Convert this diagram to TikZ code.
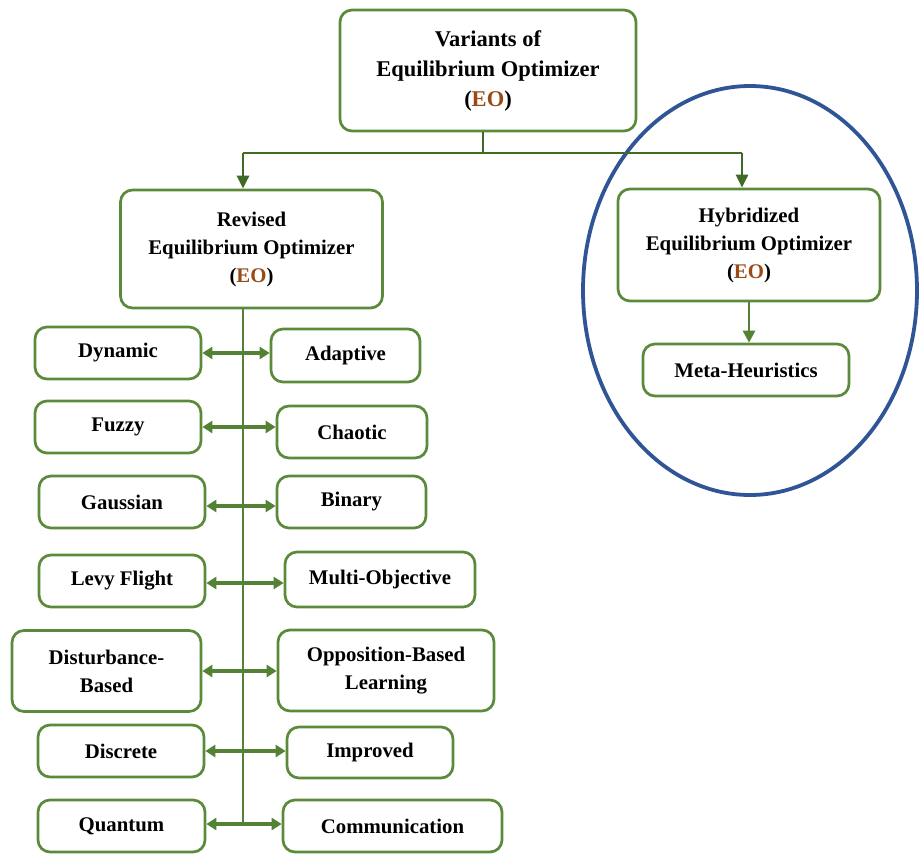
\documentclass[tikz,border=0pt]{standalone}
\usepackage{fontspec}
\setmainfont{Liberation Serif}
\usetikzlibrary{arrows.meta}
\definecolor{boxgreen}{HTML}{5A8A3A}
\definecolor{linkgreen}{HTML}{3F6B26}
\definecolor{arrgreen}{HTML}{548235}
\definecolor{eobrown}{HTML}{9A4A14}
\definecolor{ringblue}{HTML}{2F5597}
\newcommand{\EO}{(\textcolor{eobrown}{EO})}
\tikzset{
  x=1pt, y=-1pt,
  box/.style={draw=boxgreen, line width=2.7pt, rounded corners=12pt, fill=white,
    align=center, inner sep=0pt,
    font=\fontsize{20.8}{28}\selectfont\bfseries},
  link/.style={draw=linkgreen, line width=2.8pt},
  linkarrow/.style={link, -{Triangle[length=13pt,width=12pt]}},
  pairarrow/.style={draw=arrgreen, line width=3.6pt,
    {Triangle[length=10pt,width=12pt]}-{Triangle[length=10pt,width=12pt]}},
  downarrow/.style={draw=arrgreen, line width=2.8pt, -{Triangle[length=12pt,width=12pt]}},
}
\begin{document}
\begin{tikzpicture}
\useasboundingbox (0,0) rectangle (922,855);

% grouping ellipse for the hybrid branch
\draw[ringblue, line width=3.8pt] (750,290.5) ellipse [x radius=167pt, y radius=204.5pt];

% main boxes
\node[box, minimum width=296pt, minimum height=121pt,
      font=\fontsize{22.5}{30}\selectfont\bfseries] (root) at (488,70.5)
  {Variants of\\Equilibrium Optimizer\\\EO};
\node[box, minimum width=262pt, minimum height=118pt] (rev) at (251.5,249)
  {Revised\\Equilibrium Optimizer\\\EO};
\node[box, minimum width=262pt, minimum height=112pt] (hyb) at (749,245)
  {Hybridized\\Equilibrium Optimizer\\\EO};
\node[box, minimum width=206pt, minimum height=52pt] (meta) at (746,370)
  {Meta-Heuristics};

% connectors from the root
\coordinate (split) at (483,153);
\draw[link] (root.south -| split) -- (split);
\draw[linkarrow] (243,153) -- (243,153 |- rev.north);
\draw[link] (243,153) -- (742,153);
\draw[linkarrow] (742,153) -- (742,153 |- hyb.north);
\draw[downarrow] (hyb.south) -- (meta.north -| hyb.south);

% revised variants, left column
\node[box, minimum width=166pt, minimum height=52pt] (dyn)  at (118,353) {Dynamic};
\node[box, minimum width=166pt, minimum height=52pt] (fuz)  at (118,427) {Fuzzy};
\node[box, minimum width=166pt, minimum height=52pt] (gau)  at (122,502) {Gaussian};
\node[box, minimum width=166pt, minimum height=52pt] (levy) at (122,581) {Levy Flight};
\node[box, minimum width=189pt, minimum height=81pt] (dist) at (106.5,671) {Disturbance-\\Based};
\node[box, minimum width=166pt, minimum height=52pt] (disc) at (121,751) {Discrete};
\node[box, minimum width=167pt, minimum height=52pt] (quan) at (121.5,826) {Quantum};

% revised variants, right column
\node[box, minimum width=149pt, minimum height=53pt] (adap) at (345.5,355.5) {Adaptive};
\node[box, minimum width=150pt, minimum height=52pt] (chao) at (352,432) {Chaotic};
\node[box, minimum width=149pt, minimum height=52pt] (bin)  at (351.5,502) {Binary};
\node[box, minimum width=190pt, minimum height=55pt] (mo)   at (380,579.5) {Multi-Objective};
\node[box, minimum width=216pt, minimum height=81pt] (obl)  at (386,670.5) {Opposition-Based\\Learning};
\node[box, minimum width=166pt, minimum height=51pt] (imp)  at (370,752.5) {Improved};
\node[box, minimum width=219pt, minimum height=52pt] (comm) at (392.5,826) {Communication};

% spine below the revised box
\coordinate (spineend) at (243,826);
\draw[draw=arrgreen, line width=2.8pt] (243,0 |- rev.south) -- (spineend);

% paired arrows across the spine
\draw[pairarrow] (dyn.east)  -- (dyn.east -| adap.west);
\draw[pairarrow] (fuz.east)  -- (fuz.east -| chao.west);
\draw[pairarrow] ([yshift=-4pt]gau.east) -- ([yshift=-4pt]gau.east -| bin.west);
\draw[pairarrow] ([yshift=-2pt]levy.east) -- ([yshift=-2pt]levy.east -| mo.west);
\draw[pairarrow] (dist.east) -- (dist.east -| obl.west);
\draw[pairarrow] (disc.east) -- (disc.east -| imp.west);
\draw[pairarrow] ([yshift=2pt]quan.east) -- ([yshift=2pt]quan.east -| comm.west);
\end{tikzpicture}
\end{document}
